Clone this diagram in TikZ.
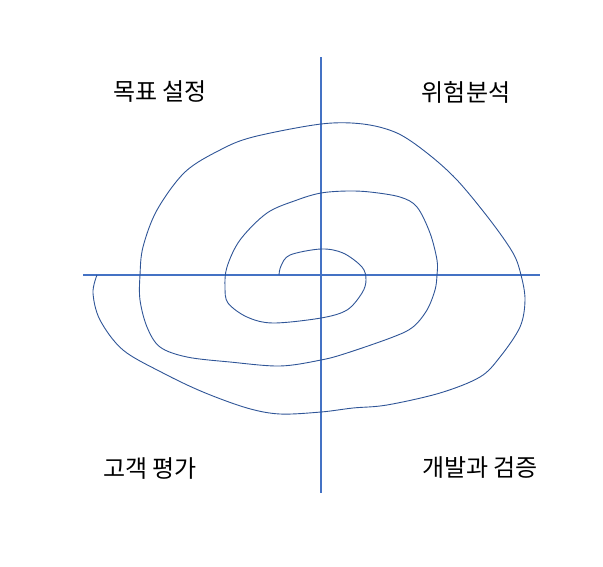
\documentclass[tikz,border=0pt]{standalone}
\usepackage{fontspec}
\newfontfamily\kofont{Noto Sans CJK KR}
\definecolor{axisblue}{HTML}{4472C4}
\definecolor{spiralblue}{HTML}{2F5597}
\tikzset{
	axis/.style={draw=axisblue, line width=1.8pt},
	spiral/.style={draw=spiralblue, line width=0.9pt},
	phase/.style={font=\kofont\fontsize{24}{28}\selectfont, inner sep=0pt}
}
\begin{document}
\begin{tikzpicture}[x=1pt, y=-1pt]
			\useasboundingbox (0,0) rectangle (603,566);
			\coordinate (west) at (83,275);
			\coordinate (east) at (540,275);
			\coordinate (north) at (321,57);
			\coordinate (south) at (321,493);
			\draw[axis] (west) -- (east);
			\draw[axis] (north) -- (south);
			\draw[spiral] plot[smooth, tension=0.55] coordinates {
				(279,275) (281,266) (290,255) (321,249) (343,253) (362,267) (366,280)
				(362,293) (347,310) (321,318) (273,323) (247,317) (228,303) (225,287)
				(227,267) (240,240) (267,213) (297,200) (321,193) (347,191) (370,192)
				(400,197) (417,207) (430,233) (437,260) (437,275) (435,290) (427,310)
				(413,327) (393,337) (347,353) (321,360) (280,366) (230,362) (187,357)
				(160,347) (147,327) (140,300) (140,275) (143,247) (157,210) (185,172)
				(220,150) (253,137) (321,124) (363,124) (397,133) (427,153) (457,180)
				(490,220) (513,253) (521,275) (525,300) (520,327) (500,357) (480,377)
				(440,393) (387,405) (353,408) (321,412) (280,414) (247,408) (203,392)
				(163,373) (123,350) (100,320) (93,293) (97,275)};
			\foreach \name\x\y\txt in {goal/160/92/목표 설정, risk/466/92/위험분석,
				review/150/469/고객 평가, build/480/468/개발과 검증}{
				\node[phase] (\name) at (\x,\y) {\txt};
			}
		\end{tikzpicture}
\end{document}
